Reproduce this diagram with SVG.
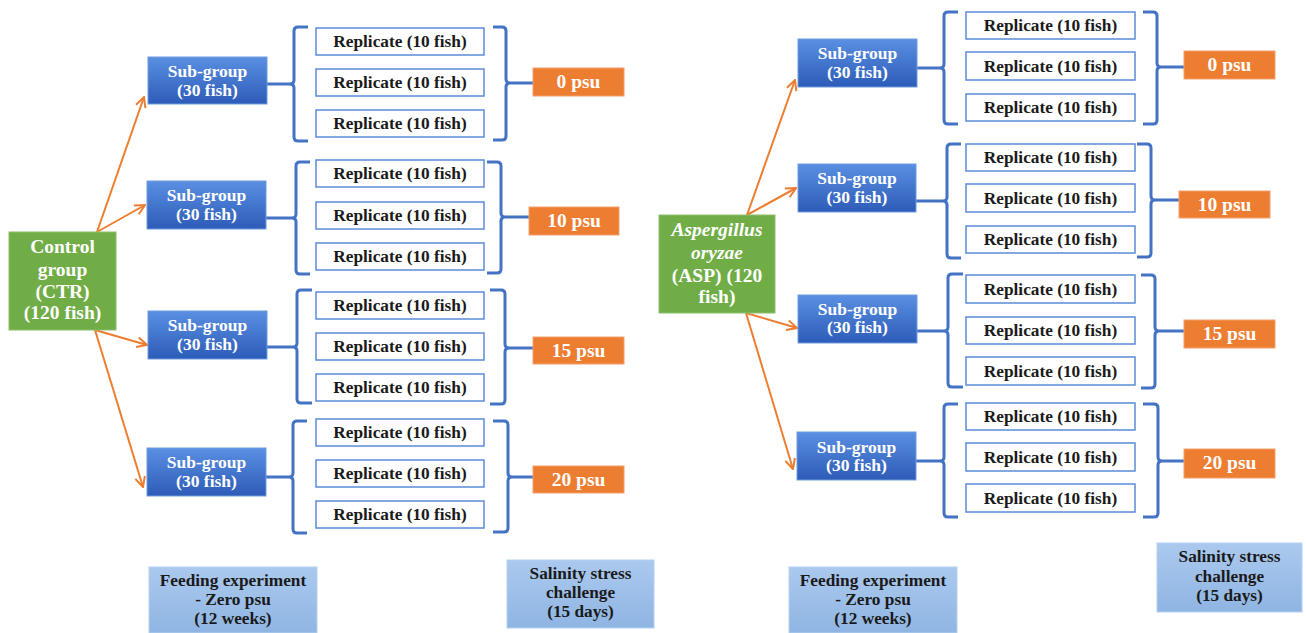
<svg xmlns="http://www.w3.org/2000/svg" width="1306" height="633" viewBox="0 0 1306 633">
<defs>
<linearGradient id="gSub" x1="0" y1="0" x2="0" y2="1"><stop offset="0" stop-color="#5a8fe2"/><stop offset="1" stop-color="#2d5cb8"/></linearGradient>
<linearGradient id="gNote" x1="0" y1="0" x2="0" y2="1"><stop offset="0" stop-color="#abc9ee"/><stop offset="1" stop-color="#8fb5e3"/></linearGradient>
<marker id="arr" viewBox="0 0 12 12" refX="11" refY="6" markerWidth="12" markerHeight="12" markerUnits="userSpaceOnUse" orient="auto"><path d="M1,1 L11,6 L1,11" fill="none" stroke="#ed7d31" stroke-width="2"/></marker>
</defs>
<style>
text{font-family:"Liberation Serif","Times New Roman",serif;font-weight:bold;text-anchor:middle}
.grp{fill:#70ad47;stroke:#8bc06a;stroke-width:1}
.gt{fill:#fff;font-size:19.5px}
.sub{fill:url(#gSub);stroke:#6f9be0;stroke-width:1}
.st{fill:#fff;font-size:17.5px}
.rep{fill:#fff;stroke:#5b8cd8;stroke-width:1.5}
.rt{fill:#1a1a1a;font-size:17.3px}
.psu{fill:#ed7d31;stroke:#f3a06c;stroke-width:1}
.pt{fill:#fff;font-size:19.5px}
.note{fill:url(#gNote);stroke:#b5d0f0;stroke-width:1}
.nt{fill:#1a1a1a;font-size:17.3px}
.br{fill:none;stroke:#4472c4;stroke-width:3;stroke-linejoin:round}
.ar{fill:none;stroke:#ed7d31;stroke-width:2;marker-end:url(#arr)}
</style>

<g id="connectors">
<path class="ar" d="M97,232 L144,97"/>
<path class="ar" d="M97,232 L145,205"/>
<path class="ar" d="M95,330 L147,345"/>
<path class="ar" d="M95,330 L143,487"/>
<path class="ar" d="M747,215 L795,80"/>
<path class="ar" d="M747,215 L796,188"/>
<path class="ar" d="M746,313 L797,328"/>
<path class="ar" d="M746,313 L793,469"/>
<path class="br" d="M267,84 H290 M308,27 H298 Q294,27 294,31 V80 Q294,84 290,84 Q294,84 294,88 V137 Q294,141 298,141 H308"/>
<path class="br" d="M493,27 H502 Q506,27 506,31 V79 Q506,83 510,83 Q506,83 506,87 V136 Q506,140 502,140 H493 M510,83 H533"/>
<path class="br" d="M266,218 H292 M310,162 H300 Q296,162 296,166 V214 Q296,218 292,218 Q296,218 296,222 V270 Q296,274 300,274 H310"/>
<path class="br" d="M487,162 H497 Q501,162 501,166 V213 Q501,217 505,217 Q501,217 501,221 V269 Q501,273 497,273 H487 M505,217 H529"/>
<path class="br" d="M267,347 H293 M312,290 H301 Q297,290 297,294 V343 Q297,347 293,347 Q297,347 297,351 V399 Q297,403 301,403 H312"/>
<path class="br" d="M490,290 H501 Q505,290 505,294 V344 Q505,348 509,348 Q505,348 505,352 V400 Q505,404 501,404 H490 M509,348 H533"/>
<path class="br" d="M266,477 H289 M307,421 H297 Q293,421 293,425 V473 Q293,477 289,477 Q293,477 293,481 V529 Q293,533 297,533 H307"/>
<path class="br" d="M493,421 H504 Q508,421 508,425 V473 Q508,477 512,477 Q508,477 508,481 V528 Q508,532 504,532 H493 M512,477 H533"/>
<path class="br" d="M917,68 H940 M958,12 H948 Q944,12 944,16 V64 Q944,68 940,68 Q944,68 944,72 V120 Q944,124 948,124 H958"/>
<path class="br" d="M1143,12 H1153 Q1157,12 1157,16 V63 Q1157,67 1161,67 Q1157,67 1157,71 V120 Q1157,124 1153,124 H1143 M1161,67 H1184"/>
<path class="br" d="M916,201 H943 M961,144 H951 Q947,144 947,148 V197 Q947,201 943,201 Q947,201 947,205 V254 Q947,258 951,258 H961"/>
<path class="br" d="M1137,144 H1147 Q1151,144 1151,148 V196 Q1151,200 1155,200 Q1151,200 1151,204 V253 Q1151,257 1147,257 H1137 M1155,200 H1179"/>
<path class="br" d="M917,331 H944 M963,274 H952 Q948,274 948,278 V327 Q948,331 944,331 Q948,331 948,335 V383 Q948,387 952,387 H963"/>
<path class="br" d="M1141,275 H1151 Q1155,275 1155,279 V327 Q1155,331 1159,331 Q1155,331 1155,335 V384 Q1155,388 1151,388 H1141 M1159,331 H1184"/>
<path class="br" d="M916,461 H940 M958,404 H948 Q944,404 944,408 V457 Q944,461 940,461 Q944,461 944,465 V513 Q944,517 948,517 H958"/>
<path class="br" d="M1143,404 H1154 Q1158,404 1158,408 V457 Q1158,461 1162,461 Q1158,461 1158,465 V513 Q1158,517 1154,517 H1143 M1162,461 H1184"/>
</g>

<g id="ctr"><rect class="grp" x="9" y="232" width="107" height="98"/>
<text class="gt" x="62.5" y="253">Control</text><text class="gt" x="62.5" y="276">group</text><text class="gt" x="62.5" y="298">(CTR)</text><text class="gt" x="62.5" y="319">(120 fish)</text></g>

<g id="asp"><rect class="grp" x="659" y="215" width="116" height="98"/>
<text class="gt" x="717" y="236" font-style="italic">Aspergillus</text><text class="gt" x="717" y="259" font-style="italic">oryzae</text><text class="gt" x="717" y="282">(ASP) (120</text><text class="gt" x="717" y="303">fish)</text></g>

<g id="subL1"><rect class="sub" x="148" y="57" width="119" height="47"/><text class="st" x="207.5" y="77">Sub-group</text><text class="st" x="207.5" y="96">(30 fish)</text></g>
<g id="subL2"><rect class="sub" x="147" y="181" width="119" height="48"/><text class="st" x="206.5" y="201">Sub-group</text><text class="st" x="206.5" y="220">(30 fish)</text></g>
<g id="subL3"><rect class="sub" x="148" y="311" width="119" height="48"/><text class="st" x="207.5" y="331">Sub-group</text><text class="st" x="207.5" y="350">(30 fish)</text></g>
<g id="subL4"><rect class="sub" x="147" y="448" width="119" height="48"/><text class="st" x="206.5" y="468">Sub-group</text><text class="st" x="206.5" y="487">(30 fish)</text></g>

<g id="subR1"><rect class="sub" x="798" y="39" width="119" height="48"/><text class="st" x="857.5" y="59">Sub-group</text><text class="st" x="857.5" y="78">(30 fish)</text></g>
<g id="subR2"><rect class="sub" x="798" y="164" width="118" height="48"/><text class="st" x="857" y="184">Sub-group</text><text class="st" x="857" y="203">(30 fish)</text></g>
<g id="subR3"><rect class="sub" x="798" y="295" width="119" height="48"/><text class="st" x="857.5" y="315">Sub-group</text><text class="st" x="857.5" y="333">(30 fish)</text></g>
<g id="subR4"><rect class="sub" x="797" y="432" width="119" height="48"/><text class="st" x="856.5" y="453">Sub-group</text><text class="st" x="856.5" y="471">(30 fish)</text></g>

<g id="repL1"><rect class="rep" x="316" y="28" width="168" height="27"/><text class="rt" x="400" y="47">Replicate (10 fish)</text></g>
<g id="repL2"><rect class="rep" x="316" y="69" width="168" height="27"/><text class="rt" x="400" y="88">Replicate (10 fish)</text></g>
<g id="repL3"><rect class="rep" x="316" y="110" width="168" height="27"/><text class="rt" x="400" y="129">Replicate (10 fish)</text></g>
<g id="repL4"><rect class="rep" x="316" y="160" width="168" height="27"/><text class="rt" x="400" y="179">Replicate (10 fish)</text></g>
<g id="repL5"><rect class="rep" x="316" y="202" width="168" height="27"/><text class="rt" x="400" y="221">Replicate (10 fish)</text></g>
<g id="repL6"><rect class="rep" x="316" y="243" width="168" height="27"/><text class="rt" x="400" y="262">Replicate (10 fish)</text></g>
<g id="repL7"><rect class="rep" x="316" y="292" width="168" height="27"/><text class="rt" x="400" y="311">Replicate (10 fish)</text></g>
<g id="repL8"><rect class="rep" x="316" y="333" width="168" height="27"/><text class="rt" x="400" y="352">Replicate (10 fish)</text></g>
<g id="repL9"><rect class="rep" x="316" y="374" width="168" height="27"/><text class="rt" x="400" y="393">Replicate (10 fish)</text></g>
<g id="repL10"><rect class="rep" x="316" y="419" width="168" height="27"/><text class="rt" x="400" y="438">Replicate (10 fish)</text></g>
<g id="repL11"><rect class="rep" x="316" y="460" width="168" height="27"/><text class="rt" x="400" y="479">Replicate (10 fish)</text></g>
<g id="repL12"><rect class="rep" x="316" y="501" width="168" height="27"/><text class="rt" x="400" y="520">Replicate (10 fish)</text></g>

<g id="repR1"><rect class="rep" x="966" y="12" width="169" height="27"/><text class="rt" x="1050.5" y="31">Replicate (10 fish)</text></g>
<g id="repR2"><rect class="rep" x="966" y="52" width="169" height="28"/><text class="rt" x="1050.5" y="72">Replicate (10 fish)</text></g>
<g id="repR3"><rect class="rep" x="966" y="94" width="169" height="27"/><text class="rt" x="1050.5" y="113">Replicate (10 fish)</text></g>
<g id="repR4"><rect class="rep" x="966" y="144" width="169" height="27"/><text class="rt" x="1050.5" y="163">Replicate (10 fish)</text></g>
<g id="repR5"><rect class="rep" x="966" y="184" width="169" height="28"/><text class="rt" x="1050.5" y="204">Replicate (10 fish)</text></g>
<g id="repR6"><rect class="rep" x="966" y="226" width="169" height="27"/><text class="rt" x="1050.5" y="245">Replicate (10 fish)</text></g>
<g id="repR7"><rect class="rep" x="966" y="275" width="169" height="28"/><text class="rt" x="1050.5" y="295">Replicate (10 fish)</text></g>
<g id="repR8"><rect class="rep" x="966" y="317" width="169" height="27"/><text class="rt" x="1050.5" y="336">Replicate (10 fish)</text></g>
<g id="repR9"><rect class="rep" x="966" y="357" width="169" height="28"/><text class="rt" x="1050.5" y="377">Replicate (10 fish)</text></g>
<g id="repR10"><rect class="rep" x="966" y="403" width="169" height="27"/><text class="rt" x="1050.5" y="422">Replicate (10 fish)</text></g>
<g id="repR11"><rect class="rep" x="966" y="443" width="169" height="28"/><text class="rt" x="1050.5" y="463">Replicate (10 fish)</text></g>
<g id="repR12"><rect class="rep" x="966" y="484" width="169" height="28"/><text class="rt" x="1050.5" y="504">Replicate (10 fish)</text></g>

<g id="psuL0"><rect class="psu" x="533" y="68" width="91" height="28"/><text class="pt" x="578.5" y="88">0 psu</text></g>
<g id="psuL10"><rect class="psu" x="529" y="207" width="90" height="28"/><text class="pt" x="574" y="227">10 psu</text></g>
<g id="psuL15"><rect class="psu" x="533" y="337" width="91" height="27"/><text class="pt" x="578.5" y="357">15 psu</text></g>
<g id="psuL20"><rect class="psu" x="533" y="466" width="91" height="27"/><text class="pt" x="578.5" y="486">20 psu</text></g>
<g id="psuR0"><rect class="psu" x="1184" y="51" width="91" height="28"/><text class="pt" x="1229.5" y="71">0 psu</text></g>
<g id="psuR10"><rect class="psu" x="1179" y="191" width="91" height="27"/><text class="pt" x="1224.5" y="211">10 psu</text></g>
<g id="psuR15"><rect class="psu" x="1184" y="320" width="91" height="28"/><text class="pt" x="1229.5" y="340">15 psu</text></g>
<g id="psuR20"><rect class="psu" x="1184" y="449" width="91" height="29"/><text class="pt" x="1229.5" y="469">20 psu</text></g>

<g id="feedL"><rect class="note" x="149" y="567" width="168" height="66"/><text class="nt" x="233" y="586">Feeding experiment</text><text class="nt" x="233" y="605">- Zero psu</text><text class="nt" x="233" y="624">(12 weeks)</text></g>
<g id="salL"><rect class="note" x="507" y="560" width="147" height="68"/><text class="nt" x="580.5" y="579">Salinity stress</text><text class="nt" x="580.5" y="598">challenge</text><text class="nt" x="580.5" y="617">(15 days)</text></g>
<g id="feedR"><rect class="note" x="789" y="567" width="168" height="66"/><text class="nt" x="873" y="586">Feeding experiment</text><text class="nt" x="873" y="605">- Zero psu</text><text class="nt" x="873" y="624">(12 weeks)</text></g>
<g id="salR"><rect class="note" x="1157" y="543" width="145" height="69"/><text class="nt" x="1229.5" y="562">Salinity stress</text><text class="nt" x="1229.5" y="582">challenge</text><text class="nt" x="1229.5" y="601">(15 days)</text></g>
</svg>
